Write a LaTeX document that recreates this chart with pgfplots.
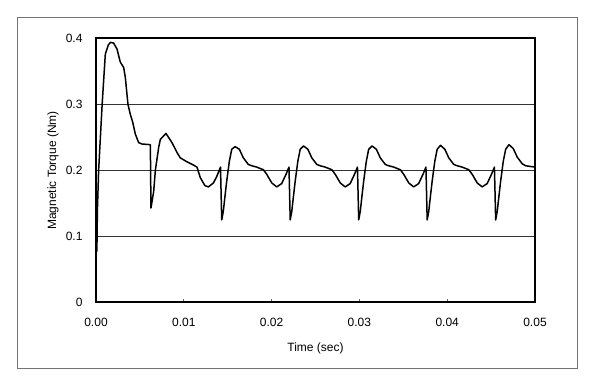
\documentclass[border=0pt]{standalone}
\usepackage{pgfplots}
\pgfplotsset{compat=1.18}
\usepackage{fontspec}
\setmainfont{Liberation Sans}
\begin{document}
\begin{tikzpicture}
\path[use as bounding box] (0pt,0pt) rectangle (595pt,382pt);
\draw[black!55,line width=0.9pt] (17.5pt,14pt) rectangle (577.5pt,365pt);
\begin{axis}[
  at={(96pt,79.6pt)}, anchor=south west,
  scale only axis, width=439pt, height=264pt,
  xmin=0, xmax=0.05, ymin=0, ymax=0.4,
  xtick={0,0.01,0.02,0.03,0.04,0.05},
  xticklabels={0.00,0.01,0.02,0.03,0.04,0.05},
  ytick={0,0.1,0.2,0.3,0.4},
  yticklabels={0,0.1,0.2,0.3,0.4},
  scaled x ticks=false, scaled y ticks=false,
  /pgf/number format/assume math mode=true,
  xtick pos=bottom, ytick pos=left,
  tick align=inside,
  major tick length=3pt,
  x tick style={black!60, line width=0.6pt},
  y tick style={draw=none},
  ymajorgrids,
  grid style={black!80, line width=0.7pt},
  axis line style={black, line width=1.8pt},
  tick label style={font=\fontsize{12}{14}\selectfont},
  xticklabel style={yshift=-12pt},
  yticklabel style={xshift=-10pt},
  xlabel={Time (sec)},
  ylabel={Magnetic Torque (Nm)},
  label style={font=\fontsize{12}{14}\selectfont},
  xlabel style={at={(axis description cs:0.5,-0.173)}, anchor=center},
  ylabel style={at={(axis description cs:-0.098,0.5)}, anchor=center},
  clip=true,
]
\addplot[black, line width=1.5pt, line join=round] coordinates {
(0.0001,0.077) (0.00016,0.14) (0.0003,0.20) (0.0007,0.30) (0.00106,0.376) (0.0014,0.390) (0.00165,0.394) (0.0020,0.393)
(0.00239,0.384) (0.00277,0.364) (0.00315,0.356) (0.00334,0.341) (0.00364,0.30) (0.00391,0.285) (0.00418,0.273)
(0.00448,0.255) (0.00486,0.242) (0.00524,0.240) (0.00619,0.239)
(0.00626,0.143) (0.00657,0.168) (0.00676,0.20) (0.00714,0.235) (0.00733,0.247) (0.00797,0.256) (0.00866,0.242)
(0.00923,0.227) (0.0096,0.219) (0.01036,0.213) (0.01112,0.208) (0.0115,0.205) (0.01188,0.189) (0.0124,0.177)
(0.0128,0.175) (0.01338,0.181) (0.01376,0.191) (0.01418,0.205)
(0.01432,0.125) (0.01450,0.138) (0.01470,0.162) (0.01489,0.184) (0.01519,0.214) (0.01546,0.232) (0.01584,0.236)
(0.01633,0.232) (0.01678,0.219) (0.01735,0.209) (0.01774,0.207) (0.01831,0.205) (0.01906,0.201) (0.01945,0.194)
(0.02002,0.181) (0.02058,0.175) (0.02115,0.180) (0.02164,0.194) (0.02198,0.205)
(0.02212,0.125) (0.02230,0.138) (0.02250,0.162) (0.02269,0.184) (0.02299,0.214) (0.02326,0.232) (0.02364,0.237)
(0.02413,0.232) (0.02458,0.219) (0.02515,0.209) (0.02554,0.207) (0.02611,0.205) (0.02686,0.201) (0.02725,0.194)
(0.02782,0.181) (0.02838,0.175) (0.02895,0.180) (0.02944,0.194) (0.02978,0.205)
(0.02992,0.125) (0.03010,0.138) (0.03030,0.162) (0.03049,0.184) (0.03079,0.214) (0.03106,0.232) (0.03144,0.237)
(0.03193,0.232) (0.03238,0.219) (0.03295,0.209) (0.03334,0.207) (0.03391,0.205) (0.03466,0.201) (0.03505,0.194)
(0.03562,0.181) (0.03618,0.175) (0.03675,0.180) (0.03724,0.194) (0.03758,0.205)
(0.03772,0.125) (0.03790,0.138) (0.03810,0.162) (0.03829,0.184) (0.03859,0.214) (0.03886,0.232) (0.03924,0.238)
(0.03973,0.232) (0.04018,0.219) (0.04075,0.209) (0.04114,0.207) (0.04171,0.205) (0.04246,0.201) (0.04285,0.194)
(0.04342,0.181) (0.04398,0.175) (0.04455,0.180) (0.04504,0.194) (0.04538,0.205)
(0.04552,0.125) (0.04570,0.138) (0.04590,0.162) (0.04609,0.184) (0.04639,0.214) (0.04666,0.232) (0.04704,0.239)
(0.04753,0.233) (0.04798,0.220) (0.04855,0.210) (0.04894,0.207) (0.0500,0.205)
};
\end{axis}
\end{tikzpicture}
\end{document}
